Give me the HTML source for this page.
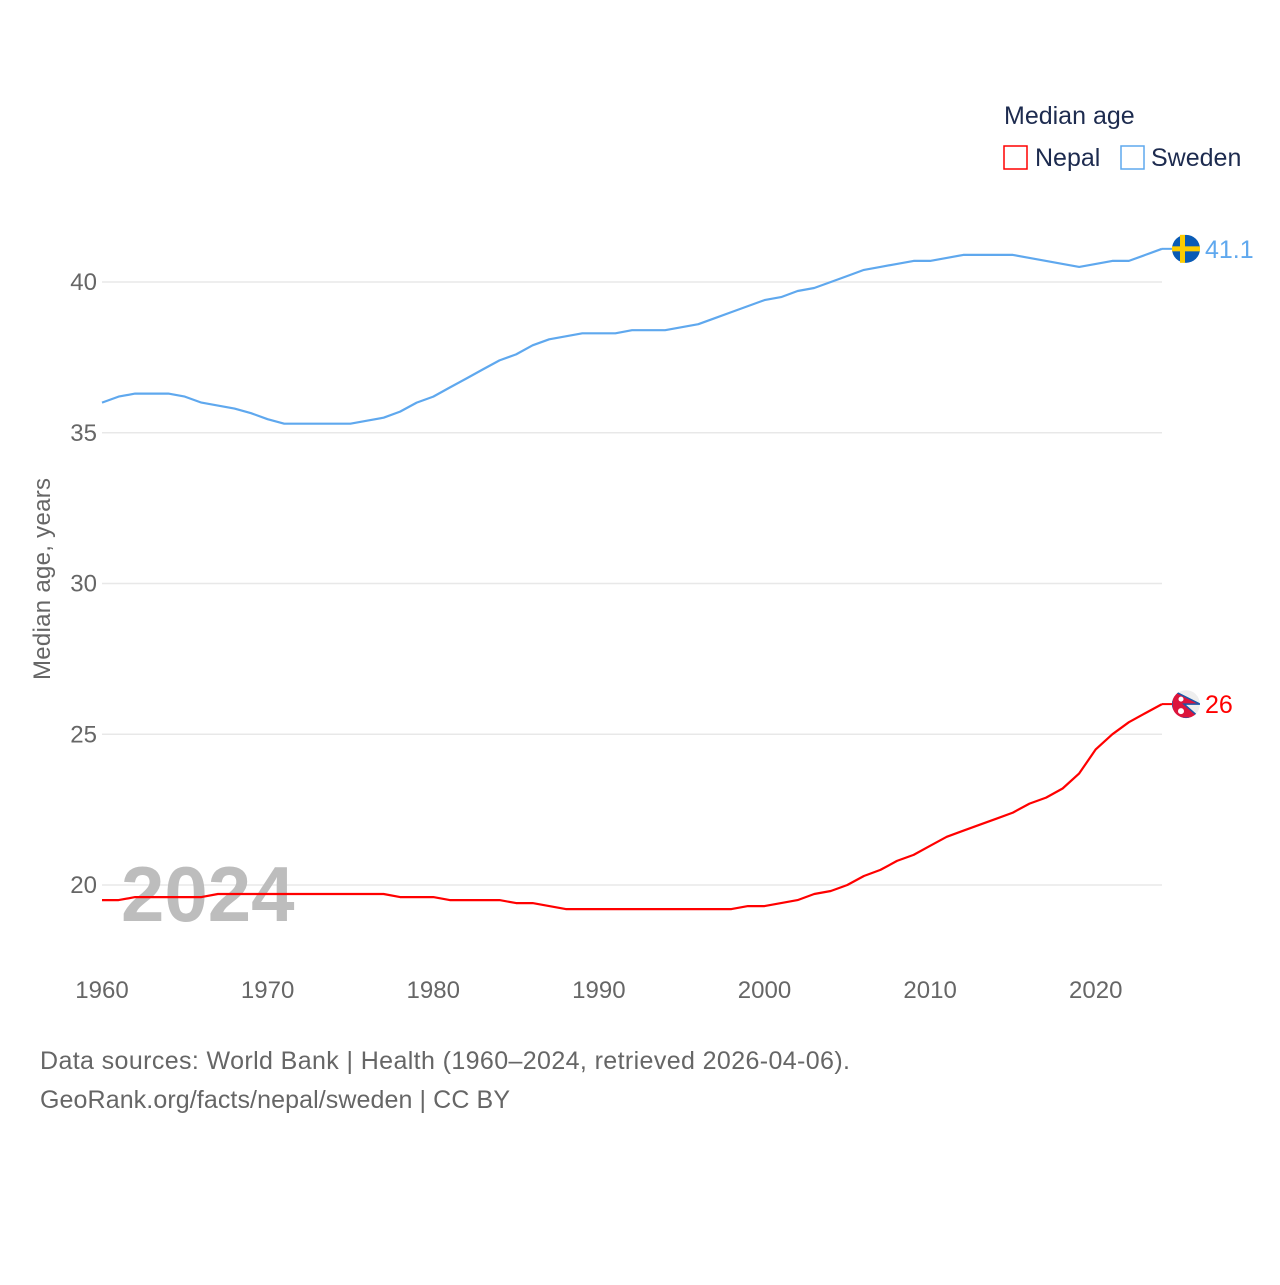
<!DOCTYPE html>
<html><head><meta charset="utf-8"><style>
body{margin:0;background:#fff;font-family:"Liberation Sans",sans-serif}
</style></head><body>
<svg width="1280" height="1280" xmlns="http://www.w3.org/2000/svg" font-family="Liberation Sans, sans-serif">
<defs><clipPath id="nclip"><circle id="nclipc" cx="1186" cy="704" r="14"/></clipPath></defs>
<g id="grid"></g>
<g id="yticks"></g>
<g id="xticks"></g>
<text x="121" y="921" font-size="78" font-weight="bold" fill="#bdbdbd">2024</text>
<text transform="translate(50,579) rotate(-90)" text-anchor="middle" font-size="24" fill="#666" textLength="202">Median age, years</text>
<g id="series"></g>
<g>
<text x="1004" y="124" font-size="25" fill="#1d2b4f">Median age</text>
<rect x="1004" y="146" width="23" height="23" fill="none" stroke="#ff0000" stroke-width="1.5"/>
<text x="1035" y="166" font-size="25" fill="#1d2b4f">Nepal</text>
<rect x="1121" y="146" width="23" height="23" fill="none" stroke="#5fa8ee" stroke-width="1.5"/>
<text x="1151" y="166" font-size="25" fill="#1d2b4f">Sweden</text>
</g>
<text x="40" y="1069" font-size="25" fill="#666" textLength="810">Data sources: World Bank | Health (1960–2024, retrieved 2026-04-06).</text>
<text x="40" y="1108" font-size="25" fill="#666" textLength="470">GeoRank.org/facts/nepal/sweden | CC BY</text>
</svg>
<script>
const years=[];for(let y=1960;y<=2024;y++)years.push(y);
const sweden=[36.0,36.2,36.3,36.3,36.3,36.2,36.0,35.9,35.8,35.65,35.45,35.3,35.3,35.3,35.3,35.3,35.4,35.5,35.7,36.0,36.2,36.5,36.8,37.1,37.4,37.6,37.9,38.1,38.2,38.3,38.3,38.3,38.4,38.4,38.4,38.5,38.6,38.8,39.0,39.2,39.4,39.5,39.7,39.8,40.0,40.2,40.4,40.5,40.6,40.7,40.7,40.8,40.9,40.9,40.9,40.9,40.8,40.7,40.6,40.5,40.6,40.7,40.7,40.9,41.1];
const nepal=[19.5,19.5,19.6,19.6,19.6,19.6,19.6,19.7,19.7,19.7,19.7,19.7,19.7,19.7,19.7,19.7,19.7,19.7,19.6,19.6,19.6,19.5,19.5,19.5,19.5,19.4,19.4,19.3,19.2,19.2,19.2,19.2,19.2,19.2,19.2,19.2,19.2,19.2,19.2,19.3,19.3,19.4,19.5,19.7,19.8,20.0,20.3,20.5,20.8,21.0,21.3,21.6,21.8,22.0,22.2,22.4,22.7,22.9,23.2,23.7,24.5,25.0,25.4,25.7,26.0];
const yTicks=[20,25,30,35,40];
const xTicks=[1960,1970,1980,1990,2000,2010,2020];
const NS="http://www.w3.org/2000/svg";
const X=v=>102+(v-1960)*(1162-102)/64;
const Y=v=>885-(v-20)*(885-282)/20;
function mk(t,a,p){const e=document.createElementNS(NS,t);for(const k in a)e.setAttribute(k,a[k]);p.appendChild(e);return e;}
const grid=document.getElementById('grid'),yt=document.getElementById('yticks'),xt=document.getElementById('xticks'),ser=document.getElementById('series');
yTicks.forEach(v=>{
 const l=mk('line',{x1:102,x2:1162,y1:Y(v),y2:Y(v),stroke:'#e8e8e8','stroke-width':1.5},grid);
 
 
 const t=mk('text',{x:97,y:Y(v)+8,'text-anchor':'end','font-size':24,fill:'#666'},yt);t.textContent=v;
 
 
});
xTicks.forEach(v=>{
 const t=mk('text',{x:X(v),y:998,'text-anchor':'middle','font-size':24,fill:'#666'},xt);t.textContent=v;
 
 
});
function line(vals,color,name){
 const d=vals.map((v,i)=>(i?'L':'M')+X(years[i]).toFixed(1)+','+Y(v).toFixed(1)).join('');
 const p=mk('path',{d:d,fill:'none',stroke:color,'stroke-width':2.2,'stroke-linejoin':'round'},ser);
 
 
 const last=vals[vals.length-1],ly=Y(last);
 mk('line',{x1:1162,x2:1172,y1:ly,y2:ly,stroke:color,'stroke-width':2},ser);
 return ly;
}
const sy=line(sweden,'#5fa8ee','sweden');
const ny=line(nepal,'#ff0000','nepal');
const sf=mk('g',{},ser);


mk('circle',{cx:1186,cy:sy,r:14,fill:'#0a5bb5'},sf);
mk('rect',{x:1172,y:sy-2.5,width:28,height:5,fill:'#fdcc00'},sf);
mk('rect',{x:1180,y:sy-14,width:5,height:28,fill:'#fdcc00'},sf);
const sl=mk('text',{x:1205,y:sy+9,'font-size':25,fill:'#5fa8ee'},ser);sl.textContent=sweden[sweden.length-1].toFixed(1);


document.getElementById('nclipc').setAttribute('cy',ny);
const nf=mk('g',{'clip-path':'url(#nclip)'},ser);


mk('circle',{cx:1186,cy:ny,r:14,fill:'#eee'},nf);
mk('path',{d:`M1172,${ny-14} L1200,${ny} L1184,${ny} L1200,${ny+14} L1172,${ny+14}Z`,fill:'#dc143c',stroke:'#1c56a8','stroke-width':1.5},nf);
mk('circle',{cx:1181,cy:ny-5,r:2.5,fill:'#fff'},nf);
mk('circle',{cx:1181,cy:ny+7,r:3,fill:'#fff'},nf);
const nl=mk('text',{x:1205,y:ny+9,'font-size':25,fill:'#ff0000'},ser);nl.textContent=String(+nepal[nepal.length-1].toFixed(1));


</script>
</body></html>
